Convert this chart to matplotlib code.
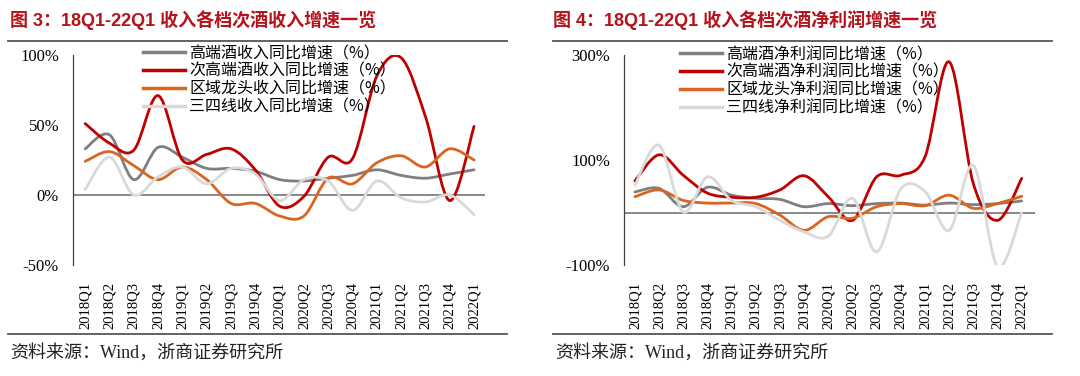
import numpy as np
import matplotlib
matplotlib.use('Agg')
import matplotlib.pyplot as plt
from matplotlib.path import Path
from matplotlib.patches import PathPatch
from matplotlib.lines import Line2D

# 数据：季度与各档次增速（%）
quarters = ['2018Q1', '2018Q2', '2018Q3', '2018Q4', '2019Q1', '2019Q2', '2019Q3', '2019Q4',
            '2020Q1', '2020Q2', '2020Q3', '2020Q4', '2021Q1', '2021Q2', '2021Q3', '2021Q4', '2022Q1']

# 图3 收入增速
rev_high = [33, 43, 11, 34, 27, 19, 19, 17, 11, 10, 12, 14, 18, 14, 12, 15, 18]
rev_sub = [51, 37, 32, 71, 25, 29, 33, 18, -8, -1, 27, 26, 85, 98, 56, -4, 49]
rev_region = [24, 31, 21, 11, 20, 11, -6, -6, -15, -15, 12, 8, 23, 28, 20, 33, 25]
rev_tier34 = [4, 27, 0, 13, 20, 8, 19, 15, -4, 11, 10, -11, 10, -2, -5, 0, -14]

# 图4 净利润增速
np_high = [39, 46, 11, 48, 33, 27, 25, 11, 17, 13, 17, 18, 14, 18, 15, 17, 22]
np_sub = [60, 110, 71, 37, 29, 29, 43, 70, 30, -15, 68, 71, 106, 287, 55, -15, 65]
np_region = [30, 43, 23, 18, 18, 17, -5, -34, -8, -11, 11, 17, 13, 33, 8, 17, 31]
np_tier34 = [52, 128, 1, 68, 23, 11, -15, -37, -45, 27, -75, 45, 40, -34, 90, -103, 0]

rev_labels = ['高端酒收入同比增速（%）', '次高端酒收入同比增速（%）',
              '区域龙头收入同比增速（%）', '三四线收入同比增速（%）']
np_labels = ['高端酒净利润同比增速（%）', '次高端酒净利润同比增速（%）',
             '区域龙头净利润同比增速（%）', '三四线净利润同比增速（%）']

colors = ['#7f7f7f', '#c00000', '#d9651f', '#d9d9d9']
serif = ['Liberation Serif', 'Noto Sans CJK SC']
cjk = ['Noto Sans CJK SC', 'DejaVu Sans']


def smooth_path(x, y):
    # 平滑曲线（类似 Excel 的平滑线），用三次贝塞尔连接各数据点
    pts = np.column_stack([x, y]).astype(float)
    n = len(pts)
    verts = [pts[0]]
    codes = [Path.MOVETO]
    for i in range(n - 1):
        p0 = pts[i - 1] if i > 0 else pts[i]
        p1 = pts[i]
        p2 = pts[i + 1]
        p3 = pts[i + 2] if i + 2 < n else pts[i + 1]
        c1 = p1 + (p2 - p0) / 6.0
        c2 = p2 - (p3 - p1) / 6.0
        verts += [c1, c2, p2]
        codes += [Path.CURVE4] * 3
    return Path(verts, codes)


def draw_panel(ax, series, labels, yticks, yticklabels, ylim, xlim, leg_anchor):
    x = np.arange(len(quarters))
    for s, c in zip(series, colors):
        patch = PathPatch(smooth_path(x, s), facecolor='none', edgecolor=c,
                          lw=2.0, capstyle='round', joinstyle='round')
        ax.add_patch(patch)
    ax.axhline(0, color='#7f7f7f', lw=1.3, zorder=0)
    ax.set_xlim(*xlim)
    ax.set_ylim(*ylim)
    ax.set_yticks(yticks)
    ax.set_yticklabels(yticklabels, fontfamily=serif, fontsize=12)
    ax.set_xticks(x)
    ax.set_xticklabels(quarters, rotation=90, fontfamily=serif, fontsize=10.5)
    ax.tick_params(axis='both', length=0, pad=10)
    ax.tick_params(axis='x', pad=12)
    for sp in ['top', 'right', 'bottom']:
        ax.spines[sp].set_visible(False)
    ax.spines['left'].set_color('#404040')
    ax.spines['left'].set_linewidth(0.9)
    handles = [Line2D([], [], color=c, lw=2.5) for c in colors]
    ax.legend(handles, labels, loc='upper left', bbox_to_anchor=leg_anchor,
              bbox_transform=ax.figure.transFigure, frameon=False,
              prop={'family': cjk, 'size': 11.5}, handlelength=2.6,
              handletextpad=0.3, labelspacing=0.06, borderpad=0, borderaxespad=0)


fig = plt.figure(figsize=(10.8, 3.76), dpi=100)

ax1 = fig.add_axes([73 / 1080, 1 - 265 / 376, 412 / 1080, 210 / 376])
draw_panel(ax1, [rev_high, rev_sub, rev_region, rev_tier34], rev_labels,
           [-50, 0, 50, 100], ['-50%', '0%', '50%', '100%'], (-50, 100),
           (-0.5, 16.45), (143 / 1080, 1 - 45 / 376))

ax2 = fig.add_axes([624 / 1080, 1 - 265 / 376, 411 / 1080, 210 / 376])
draw_panel(ax2, [np_high, np_sub, np_region, np_tier34], np_labels,
           [-100, 100, 300], ['-100%', '100%', '300%'], (-100, 300),
           (-0.45, 16.55), (680 / 1080, 1 - 46 / 376))

# 标题、分隔线与资料来源
title_kw = dict(fontfamily=['Liberation Sans', 'Noto Sans CJK SC'], fontsize=13,
                fontweight='bold', color='#b5121b', va='center', ha='left')
fig.text(10 / 1080, 1 - 20 / 376, '图 3：18Q1-22Q1 收入各档次酒收入增速一览', **title_kw)
fig.text(553 / 1080, 1 - 20 / 376, '图 4：18Q1-22Q1 收入各档次酒净利润增速一览', **title_kw)

for x0, x1 in [(8, 507), (553, 1052)]:
    for yy in [41, 334]:
        fig.add_artist(Line2D([x0 / 1080, x1 / 1080], [1 - yy / 376, 1 - yy / 376],
                              color='#555555', lw=1.3, transform=fig.transFigure))

src_kw = dict(fontfamily=serif, fontsize=13, color='#222222', va='center', ha='left')
fig.text(10 / 1080, 1 - 353 / 376, '资料来源：Wind，浙商证券研究所', **src_kw)
fig.text(555 / 1080, 1 - 353 / 376, '资料来源：Wind，浙商证券研究所', **src_kw)

fig.savefig('out.png', dpi=100, facecolor='white')
